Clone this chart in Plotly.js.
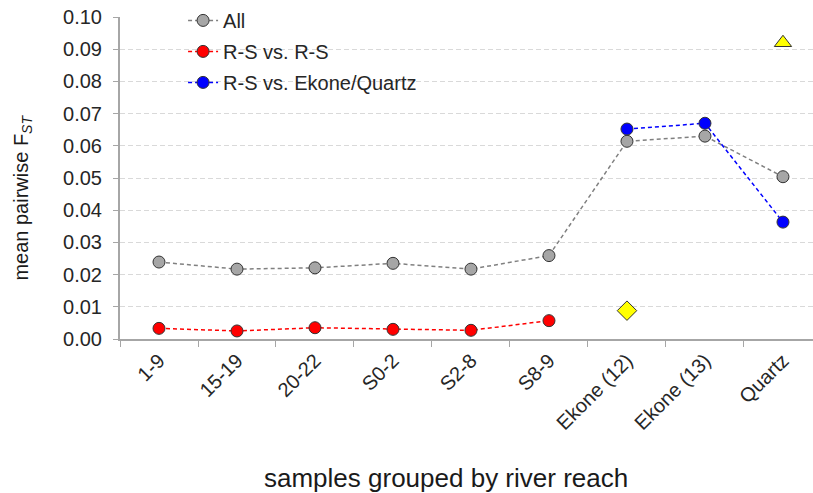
<!DOCTYPE html>
<html><head><meta charset="utf-8">
<script src="https://cdn.plot.ly/plotly-3.0.1.min.js"></script>
<style>html,body{margin:0;padding:0;background:#fff}</style>
</head><body><div id="chart" style="width:813px;height:493px"></div>
<script>
const categories = ["1-9","15-19","20-22","S0-2","S2-8","S8-9","Ekone (12)","Ekone (13)","Quartz"];
const allVals = [0.0239,0.0217,0.0221,0.0235,0.0217,0.0259,0.0614,0.0630,0.0504];
const rsCats = ["1-9","15-19","20-22","S0-2","S2-8","S8-9"];
const rsVals = [0.0033,0.0025,0.0035,0.0030,0.0027,0.0057];
const ekCats = ["Ekone (12)","Ekone (13)","Quartz"];
const ekVals = [0.0652,0.0670,0.0363];
const diamondCat = ["Ekone (12)"]; const diamondVal = [0.0088];
const triCat = ["Quartz"]; const triVal = [0.0920];
const yTicks = [0,0.01,0.02,0.03,0.04,0.05,0.06,0.07,0.08,0.09,0.10];
const xTitle = 'samples grouped by river reach';
const yTitle = 'mean pairwise F<sub><i>ST</i></sub>';

const outline = {color:'#333333', width:1};
const traces = [
 {x:categories, y:allVals, name:'All', mode:'lines+markers', legendgroup:'a',
  line:{color:'#808080', dash:'4px,3px', width:1.5},
  marker:{symbol:'circle', size:12, color:'#a6a6a6', line:outline}},
 {x:rsCats, y:rsVals, name:'R-S vs. R-S', mode:'lines+markers', legendgroup:'b',
  line:{color:'#ff0000', dash:'4px,3px', width:1.5},
  marker:{symbol:'circle', size:12, color:'#ff0000', line:outline}},
 {x:ekCats, y:ekVals, name:'R-S vs. Ekone/Quartz', mode:'lines+markers', legendgroup:'c',
  line:{color:'#0000ff', dash:'4px,3px', width:1.5},
  marker:{symbol:'circle', size:12, color:'#0000ff', line:outline}},
 {x:diamondCat, y:diamondVal, mode:'markers', showlegend:false,
  marker:{symbol:'diamond', size:15, color:'#ffff00', line:outline}},
 {x:triCat, y:triVal, mode:'markers', showlegend:false,
  marker:{symbol:'triangle-up', size:15, color:'#ffff00', line:outline}}
];
const layout = {
 width:813, height:493,
 margin:{l:120, r:0, t:17, b:154},
 paper_bgcolor:'#fff', plot_bgcolor:'#fff',
 font:{family:'Liberation Sans, Arial, sans-serif', color:'#262626', size:20},
 showlegend:true,
 legend:{x:0.091, y:1.05, xanchor:'left', yanchor:'top', bgcolor:'rgba(0,0,0,0)',
  font:{size:20, color:'#262626'}, traceorder:'grouped', tracegroupgap:2},
 xaxis:{type:'category', categoryarray:categories, categoryorder:'array',
  range:[-0.5, 8.385], tickangle:-45, tickson:'boundaries', ticks:'outside', ticklen:6,
  tickcolor:'#a6a6a6', showline:true, linecolor:'#a6a6a6', linewidth:2, showgrid:false,
  tickfont:{size:20, color:'#262626'}, zeroline:false},
 yaxis:{range:[0,0.1], tickvals:yTicks, tickformat:'.2f', ticks:'outside', ticklen:5,
  ticklabelstandoff:7,
  tickcolor:'#a6a6a6', showline:true, linecolor:'#a6a6a6', linewidth:2,
  showgrid:true, gridcolor:'#d9d9d9', griddash:'5px,3px', gridwidth:1, zeroline:false,
  tickfont:{size:20, color:'#262626'}},
 annotations:[
  {text:xTitle, xref:'paper', yref:'paper', x:0.470, y:-0.432, xanchor:'center', yanchor:'middle',
   showarrow:false, font:{size:26, color:'#1a1a1a'}},
  {text:yTitle, xref:'paper', yref:'paper', x:-0.141, y:0.44, xanchor:'center', yanchor:'middle',
   textangle:-90, showarrow:false, font:{size:20, color:'#1a1a1a'}}
 ]
};
Plotly.newPlot('chart', traces, layout, {displayModeBar:false, staticPlot:true});
</script></body></html>
